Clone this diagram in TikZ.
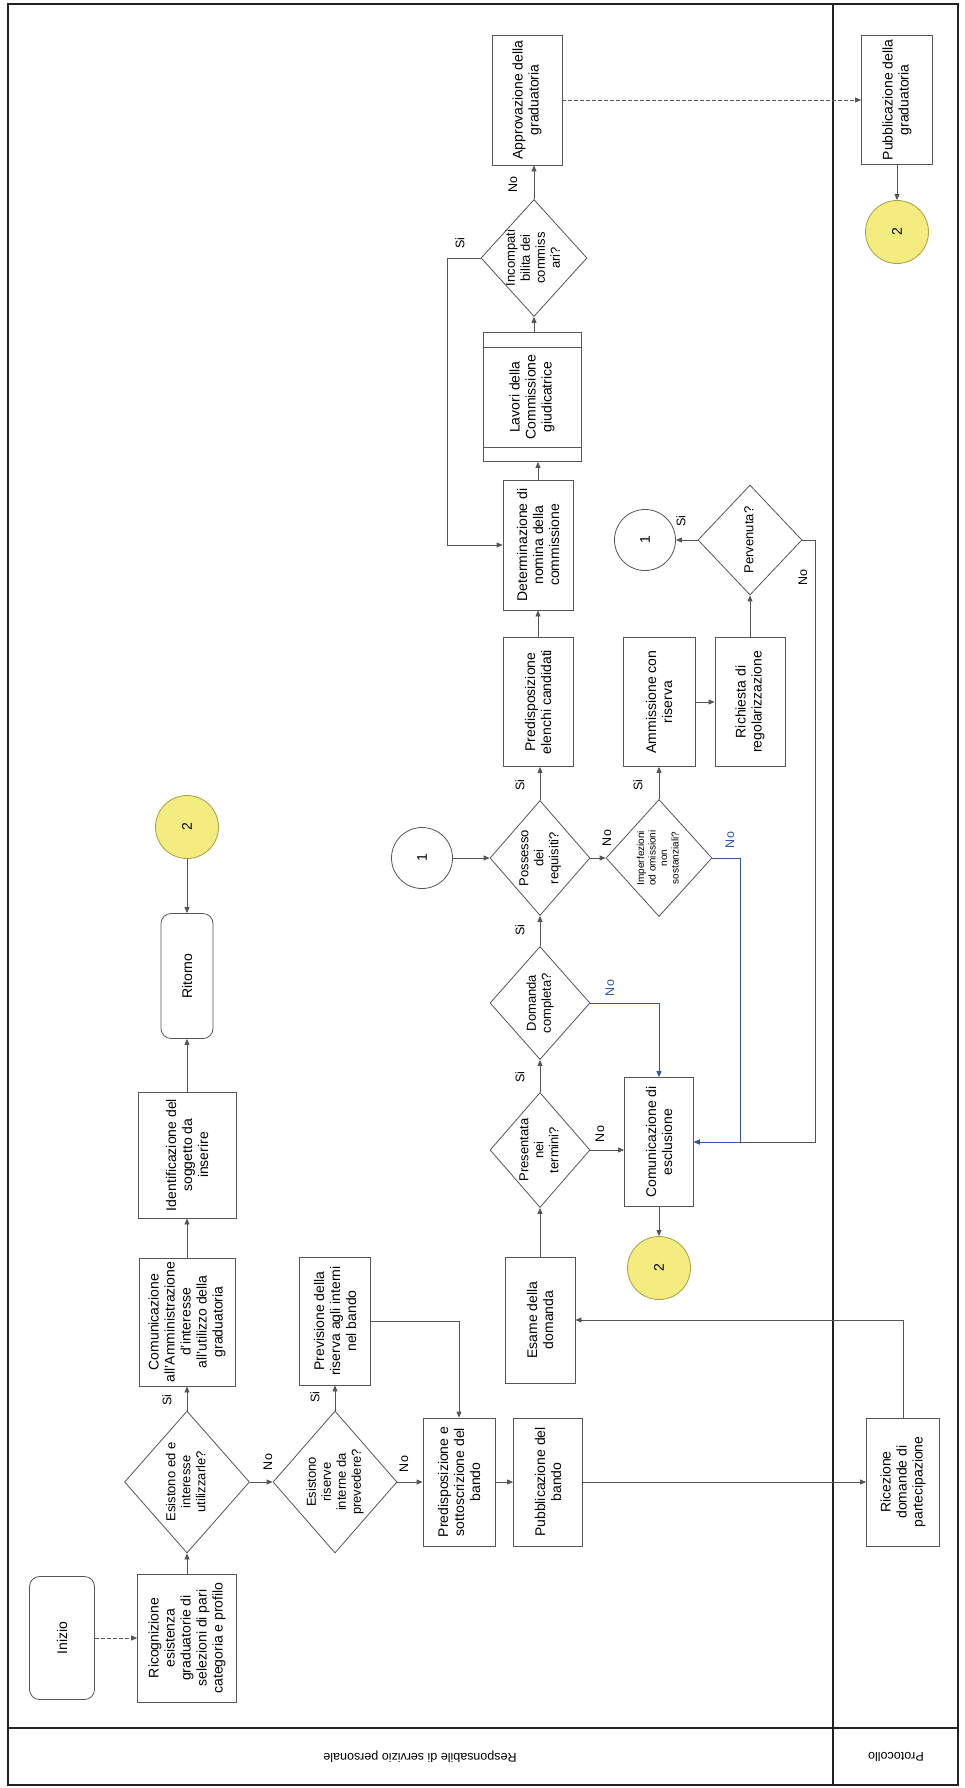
\documentclass[tikz,border=0pt]{standalone}
\usepackage{fontspec}
\setmainfont{Liberation Sans}
\usetikzlibrary{shapes.geometric,arrows.meta,calc}
\definecolor{lg}{HTML}{555555}
\definecolor{fr}{HTML}{222222}
\definecolor{bl}{HTML}{2F55A4}
\definecolor{yf}{HTML}{F4EC7E}
\definecolor{yd}{HTML}{A89F45}
\newcommand{\dt}[1]{\raisebox{-0.25em}[0pt][0pt]{\makebox[0pt]{\begin{tabular}{@{}c@{}}#1\end{tabular}}}}
\begin{document}
\begin{tikzpicture}[x=1pt,y=-1pt,
  every node/.style={font=\fontsize{14}{16}\selectfont},
  box/.style={draw=lg, line width=0.8pt, rectangle, rotate=90, align=center, inner sep=1pt},
  rbox/.style={box, rounded corners=10pt},
  dia/.style={draw=lg, line width=0.8pt, diamond, rotate=90, inner sep=0pt, font=\fontsize{13}{15}\selectfont},
  yc/.style={circle, draw=yd, fill=yf, line width=0.8pt, minimum size=63, inner sep=0pt, rotate=90},
  wc/.style={circle, draw=lg, line width=0.8pt, minimum size=61, inner sep=0pt, rotate=90},
  conn/.style={draw=lg, line width=0.8pt, -{Triangle[length=6pt,width=5pt]}},
  connb/.style={conn, draw=bl},
  dconn/.style={conn, dash pattern=on 4pt off 2pt},
  lab/.style={rotate=90, inner sep=0pt, font=\fontsize{12.5}{14}\selectfont},
  labb/.style={lab, text=bl},
  lanelab/.style={rotate=180, inner sep=0pt, font=\fontsize{12.5}{14}\selectfont}
]
\useasboundingbox (0,0) rectangle (964,1788);
% frame and lanes
\draw[fr, line width=1.6pt] (8,4) rectangle (958,1785);
\draw[fr, line width=1.6pt] (8,1728) -- (958,1728);
\draw[fr, line width=1.2pt] (833,4) -- (833,1785);
\node[lanelab] (lane1) at (420,1757) {Responsabile di servizio personale};
\node[lanelab] (lane2) at (896,1757) {Protocollo};

% nodes
\node[rbox, minimum width=123, minimum height=65] (inizio) at (62,1638) {Inizio};
\node[box, minimum width=128, minimum height=99] (ricog) at (187,1638) {Ricognizione\\esistenza\\graduatorie di\\selezioni di pari\\categoria e profilo};
\node[dia, minimum width=142, minimum height=125] (desist) at (187,1482) {\dt{Esistono ed e\\interesse\\utilizzarle?}};
\node[box, minimum width=128, minimum height=96] (comunic) at (187,1322) {Comunicazione\\all'Amministrazione\\d'interesse\\all'utilizzo della\\graduatoria};
\node[box, minimum width=126, minimum height=98] (ident) at (187,1155) {Identificazione del\\soggetto da\\inserire};
\node[rbox, minimum width=125, minimum height=52] (ritorno) at (187,976) {Ritorno};
\node[yc] (c2a) at (187,827) {2};

\node[dia, minimum width=142, minimum height=124] (driserve) at (335,1482) {\dt{Esistono\\riserve\\interne da\\prevedere?}};
\node[box, minimum width=128, minimum height=71] (previs) at (335,1321) {Previsione della\\riserva agli interni\\nel bando};
\node[box, minimum width=128, minimum height=72] (predisp) at (459,1482) {Predisposizione e\\sottoscrizione del\\bando};
\node[box, minimum width=128, minimum height=69] (pubband) at (548,1482) {Pubblicazione del\\bando};

\node[box, minimum width=126, minimum height=70] (esame) at (540,1320) {Esame della\\domanda};
\node[dia, minimum width=115, minimum height=100] (dpres) at (540,1150) {\dt{Presentata\\nei\\termini?}};
\node[box, minimum width=129, minimum height=69] (comesc) at (659,1142) {Comunicazione di\\esclusione};
\node[yc] (c2b) at (659,1268) {2};
\node[dia, minimum width=113, minimum height=100] (ddom) at (540,1003) {\dt{Domanda\\completa?}};
\node[dia, minimum width=115, minimum height=100] (dposs) at (540,858) {\dt{Possesso\\dei\\requisiti?}};
\node[wc] (c1a) at (422,858) {1};
\node[dia, minimum width=117, minimum height=106, font=\fontsize{10}{11.5}\selectfont] (dimp) at (659,858) {\dt{Imperfezioni\\od omissioni\\non\\sostanziali?}};
\node[box, minimum width=129, minimum height=70] (predel) at (538,702) {Predisposizione\\elenchi candidati};
\node[box, minimum width=129, minimum height=72] (ammis) at (659,702) {Ammissione con\\riserva};
\node[box, minimum width=129, minimum height=70] (richiesta) at (750,702) {Richiesta di\\regolarizzazione};
\node[dia, minimum width=110, minimum height=104] (dperv) at (750,540) {\dt{Pervenuta?}};
\node[wc] (c1b) at (645,540) {1};
\node[box, minimum width=130, minimum height=70] (determ) at (538,545) {Determinazione di\\nomina della\\commissione};
\node[box, minimum width=129, minimum height=98] (lavori) at (532,397) {Lavori della\\Commissione\\giudicatrice};
\draw[lg, line width=0.8pt] ($(lavori.north east)!15pt!(lavori.north west)$) -- ($(lavori.south east)!15pt!(lavori.south west)$);
\draw[lg, line width=0.8pt] ($(lavori.north west)!15pt!(lavori.north east)$) -- ($(lavori.south west)!15pt!(lavori.south east)$);
\node[dia, minimum width=117, minimum height=106] (dincomp) at (534,258) {\dt{Incompati\\bilita dei\\commiss\\ari?}};
\node[box, minimum width=130, minimum height=70] (approv) at (527,100) {Approvazione della\\graduatoria};
\node[box, minimum width=129, minimum height=71] (pubgrad) at (897,100) {Pubblicazione della\\graduatoria};
\node[yc] (c2c) at (897,232) {2};
\node[box, minimum width=128, minimum height=73] (ricez) at (903,1482) {Ricezione\\domande di\\partecipazione};

\coordinate (jl) at (447,258);
\coordinate (jb) at (740,858);
\coordinate (jp) at (815,540);

% connectors
\draw[dconn] (inizio.south) -- (ricog.north);
\draw[conn] (ricog.east) -- (desist.west);
\draw[conn] (desist.east) -- (comunic.west);
\draw[conn] (comunic.east) -- (ident.west);
\draw[conn] (ident.east) -- (ritorno.west);
\draw[conn] (c2a.west) -- (ritorno.east);
\draw[conn] (desist.south) -- (driserve.north);
\draw[conn] (driserve.east) -- (previs.west);
\draw[conn] (previs.south) -| (predisp.east);
\draw[conn] (driserve.south) -- (predisp.north);
\draw[conn] (predisp.south) -- (pubband.north);
\draw[conn] (pubband.south) -- (ricez.north);
\draw[conn] (ricez.east) |- (esame.south);
\draw[conn] (esame.east) -- (dpres.west);
\draw[conn] (dpres.south) -- (dpres.south -| comesc.north);
\draw[conn] (dpres.east) -- (ddom.west);
\draw[conn] (ddom.east) -- (dposs.west);
\draw[connb] (ddom.south) -| (comesc.east);
\draw[conn] (c1a.south) -- (dposs.north);
\draw[conn] (dposs.east) -- (dposs.east |- predel.west);
\draw[conn] (dposs.south) -- (dimp.north);
\draw[conn] (dimp.east) -- (ammis.west);
\draw[conn] (dperv.south) -- (jp) |- (comesc.south);
\draw[connb] (dimp.south) -- (jb) |- (comesc.south);
\draw[conn] (predel.east) -- (predel.east |- determ.west);
\draw[conn] (determ.east) -- (determ.east |- lavori.west);
\draw[conn] (lavori.east -| dincomp.west) -- (dincomp.west);
\draw[conn] (dincomp.east) -- (dincomp.east |- approv.west);
\draw[conn] (dincomp.north) -- (jl) |- (determ.north);
\draw[dconn] (approv.south) -- (pubgrad.north);
\draw[conn] (pubgrad.west) -- (c2c.east);
\draw[conn] (comesc.west) -- (c2b.east);
\draw[conn] (ammis.south) -- (richiesta.north);
\draw[conn] (richiesta.east) -- (dperv.west);
\draw[conn] (dperv.north) -- (c1b.south);

% labels
\node[lab] (l1) at (167,1400) {Si};
\node[lab] (l2) at (268,1462) {No};
\node[lab] (l3) at (315,1397) {Si};
\node[lab] (l4) at (404,1464) {No};
\node[lab] (l5) at (600,1134) {No};
\node[lab] (l6) at (520,1077) {Si};
\node[lab] (l7) at (520,930) {Si};
\node[labb] (l8) at (610,988) {No};
\node[lab] (l9) at (520,785) {Si};
\node[lab] (l10) at (607,838) {No};
\node[lab] (l11) at (638,785) {Si};
\node[labb] (l12) at (730,840) {No};
\node[lab] (l13) at (681,521) {Si};
\node[lab] (l14) at (803,578) {No};
\node[lab] (l15) at (513,185) {No};
\node[lab] (l16) at (460,243) {Si};
\end{tikzpicture}
\end{document}
